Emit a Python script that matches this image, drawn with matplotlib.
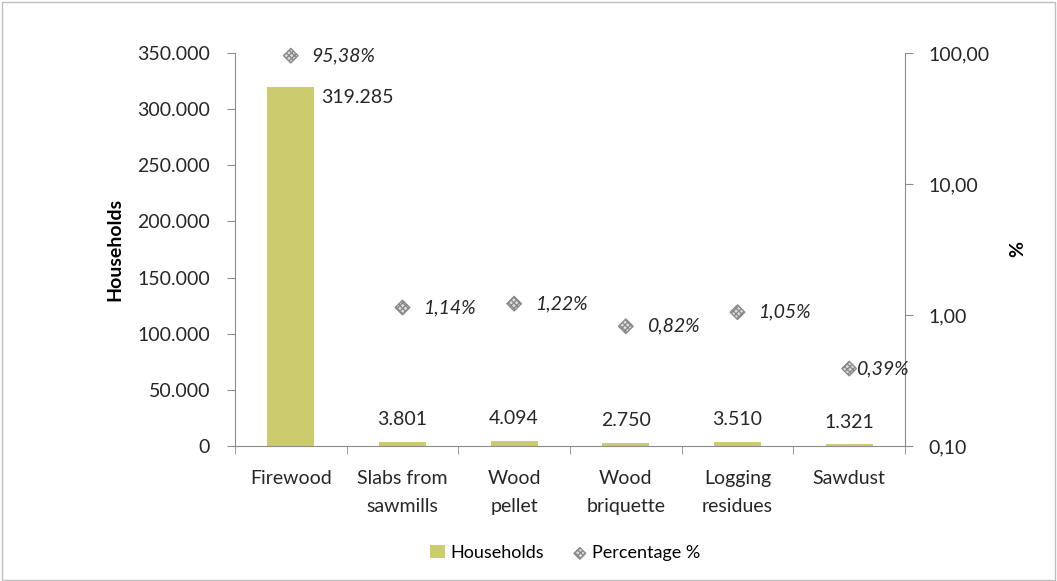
import matplotlib
matplotlib.use("Agg")
import matplotlib.pyplot as plt
from matplotlib.patches import Rectangle
from matplotlib.ticker import FixedLocator, FuncFormatter, NullLocator
import numpy as np

categories = ["Firewood", "Slabs from\nsawmills", "Wood\npellet", "Wood\nbriquette", "Logging\nresidues", "Sawdust"]
households = [319285, 3801, 4094, 2750, 3510, 1321]
percentages = [95.38, 1.14, 1.22, 0.82, 1.05, 0.39]

BAR_COLOR = "#cccc6e"
SPINE_COLOR = "#8c8c8c"
TEXT_COLOR = "#262626"

plt.rcParams["font.family"] = ["Lato", "DejaVu Sans"]
plt.rcParams["font.size"] = 14

fig = plt.figure(figsize=(10.57, 5.81), dpi=100)
ax = fig.add_axes([0.2223, 0.2324, 0.6339, 0.6764])
x = np.arange(len(categories))

ax.bar(x, households, width=0.42, color=BAR_COLOR, zorder=2)
ax.set_xlim(-0.5, len(categories) - 0.5)
ax.set_ylim(0, 350000)
ax.yaxis.set_major_locator(FixedLocator(np.arange(0, 350001, 50000)))
ax.yaxis.set_major_formatter(FuncFormatter(lambda v, p: "0" if v == 0 else f"{int(v):,}".replace(",", ".")))
ax.set_xticks(x)
ax.set_xticklabels(categories, color=TEXT_COLOR, linespacing=1.8)
ax.xaxis.set_minor_locator(FixedLocator(np.arange(-0.5, len(categories), 1.0)))
ax.tick_params(axis="x", which="major", length=0, pad=17)
ax.tick_params(axis="x", which="minor", length=6, color=SPINE_COLOR, direction="out")
ax.tick_params(axis="y", length=6, color=SPINE_COLOR, labelcolor=TEXT_COLOR, pad=12)
ax.set_ylabel("Households", fontweight="bold", color="black", labelpad=10)

for s in ["top", "right"]:
    ax.spines[s].set_visible(False)
for s in ["left", "bottom"]:
    ax.spines[s].set_color(SPINE_COLOR)

for i, v in enumerate(households):
    lbl = f"{v:,}".replace(",", ".")
    if i == 0:
        ax.annotate(lbl, (x[i] + 0.21, v), xytext=(5, -1), textcoords="offset points",
                    ha="left", va="top", color=TEXT_COLOR)
    else:
        ax.annotate(lbl, (x[i], v), xytext=(0, 10), textcoords="offset points",
                    ha="center", va="bottom", color=TEXT_COLOR)

ax2 = ax.twinx()
ax2.set_yscale("log")
ax2.set_ylim(0.1, 100)
ax2.yaxis.set_major_locator(FixedLocator([0.1, 1, 10, 100]))
ax2.yaxis.set_minor_locator(NullLocator())
ax2.yaxis.set_major_formatter(FuncFormatter(lambda v, p: f"{v:.2f}".replace(".", ",")))
ax2.tick_params(axis="y", length=6, color=SPINE_COLOR, labelcolor=TEXT_COLOR, pad=11)
for s in ["top", "left", "bottom"]:
    ax2.spines[s].set_visible(False)
ax2.spines["right"].set_color(SPINE_COLOR)
ax2.set_ylabel("%", fontweight="bold", color="black", labelpad=14)

ax2.scatter(x, percentages, marker="D", s=55, facecolor="#e0e0e0", edgecolor="#8a8a8a",
            hatch="xxxxxx", linewidths=1.0, zorder=3, clip_on=False)
for i, p in enumerate(percentages):
    ax2.annotate(f"{p:.2f}%".replace(".", ","), (x[i], p), xytext=(15 if i < 5 else 5, 0),
                 textcoords="offset points", ha="left", va="center", style="italic", color=TEXT_COLOR)

h1 = ax.bar([0], [0], color=BAR_COLOR, label="Households")
h2 = ax2.scatter([], [], marker="D", s=35, facecolor="#e0e0e0", edgecolor="#8a8a8a",
                 hatch="xxxxxx", label="Percentage %")
fig.legend(handles=[h1, h2], labels=["Households", "Percentage %"], loc="center",
           bbox_to_anchor=(0.535, 0.048), ncol=2, frameon=False, handlelength=0.8,
           handletextpad=0.3, columnspacing=1.6, fontsize=13)

fig.patches.append(Rectangle((0.002, 0.002), 0.996, 0.995, transform=fig.transFigure,
                             fill=False, edgecolor="#bfbfbf", linewidth=1.0))

fig.savefig("out.png", dpi=100)
